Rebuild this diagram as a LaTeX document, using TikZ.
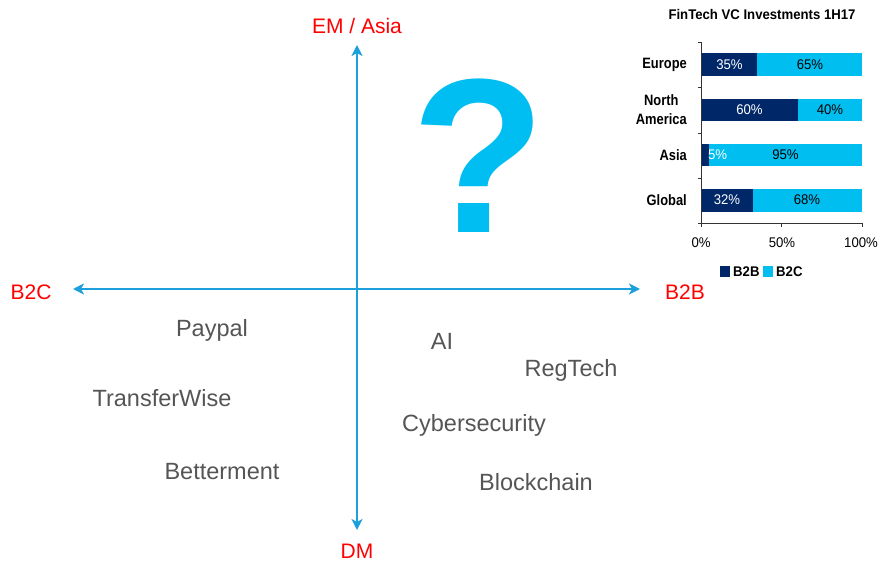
\documentclass[tikz,border=0pt]{standalone}
\usepackage{fontspec}
\setmainfont{Liberation Sans}
\newfontfamily\narrowA[FakeStretch=0.86]{Liberation Sans}
\newfontfamily\narrowB[FakeStretch=0.94]{Liberation Sans}
\usetikzlibrary{arrows.meta}
\definecolor{axisblue}{RGB}{27,160,220}
\definecolor{qcyan}{RGB}{0,190,242}
\definecolor{navy}{RGB}{0,40,105}
\definecolor{barcyan}{RGB}{0,190,240}
\definecolor{lblgray}{RGB}{85,85,85}
\begin{document}
\begin{tikzpicture}[x=1pt,y=-1pt,
  axisarrow/.style={draw=axisblue,line width=2.4pt,-{Stealth[length=11pt,width=11pt,inset=3pt]}},
  axlbl/.style={text=red,font=\fontsize{21}{24}\selectfont,inner sep=0pt},
  cat/.style={text=lblgray,font=\fontsize{23.5}{27}\selectfont,inner sep=0pt},
  chtitle/.style={font=\narrowB\bfseries\fontsize{14}{16}\selectfont,inner sep=0pt},
  catlbl/.style={font=\narrowA\bfseries\fontsize{15}{19}\selectfont,inner sep=0pt,anchor=east,align=center},
  pct/.style={font=\narrowB\fontsize{14}{16}\selectfont,inner sep=0pt},
  leg/.style={font=\narrowB\bfseries\fontsize{14}{16}\selectfont,inner sep=0pt},
  b2b/.style={fill=navy,draw=none},
  b2c/.style={fill=barcyan,draw=none},
  chartaxis/.style={draw=black!80,line width=0.8pt}]
\useasboundingbox (0,0) rectangle (880,561);
% quadrant axes
\coordinate (c) at (357,289);
\coordinate (top) at (357,45);
\coordinate (bot) at (357,530);
\coordinate (left) at (73,289);
\coordinate (right) at (640,289);
\draw[axisarrow] (c) -- (top);
\draw[axisarrow] (c) -- (bot);
\draw[axisarrow] (c) -- (left);
\draw[axisarrow] (c) -- (right);
\node[axlbl] (em) at (357,26) {EM / Asia};
\node[axlbl] (dm) at (357,551) {DM};
\node[axlbl] (b2cl) at (31,292) {B2C};
\node[axlbl] (b2bl) at (685,292) {B2B};
% question mark
\node[text=qcyan,font=\bfseries\fontsize{220}{230}\selectfont,inner sep=0pt] (q) at (479,156) {?};
% category labels
\node[cat] (paypal) at (212,330) {Paypal};
\node[cat] (tw) at (162,398) {TransferWise};
\node[cat] (bet) at (222,472) {Betterment};
\node[cat] (ai) at (442,341) {AI};
\node[cat] (reg) at (571,370) {RegTech};
\node[cat] (cyber) at (474,425) {Cybersecurity};
\node[cat] (block) at (536,482) {Blockchain};
% chart
\node[chtitle] (ctitle) at (762,15) {FinTech VC Investments 1H17};
% bars
\fill[b2b] (701,53) rectangle (757.4,76);
\fill[b2c] (757.4,53) rectangle (862,76);
\fill[b2b] (701,99) rectangle (797.6,121);
\fill[b2c] (797.6,99) rectangle (862,121);
\fill[b2b] (701,144) rectangle (709,166);
\fill[b2c] (709,144) rectangle (862,166);
\fill[b2b] (701,189) rectangle (752.5,212);
\fill[b2c] (752.5,189) rectangle (862,212);
% chart axes
\draw[chartaxis] (701,42) -- (701,223) -- (862,223);
\foreach \yy in {42,87.5,133,178,223} \draw[chartaxis] (698,\yy) -- (701,\yy);
\foreach \xx in {701,781.5,862} \draw[chartaxis] (\xx,223) -- (\xx,227);
% bar labels
\node[pct,text=white] (e1) at (729.5,65) {35\%};
\node[pct] (e2) at (810,65) {65\%};
\node[pct,text=white] (n1) at (749.5,110) {60\%};
\node[pct] (n2) at (830,110) {40\%};
\node[pct,text=white] (a1) at (717.5,155) {5\%};
\node[pct] (a2) at (785.5,155) {95\%};
\node[pct,text=white] (g1) at (727,200) {32\%};
\node[pct] (g2) at (807,200) {68\%};
% category labels
\node[catlbl] (eu) at (687,65) {Europe};
\node[catlbl] (na) at (687,110) {North\\America};
\node[catlbl] (as) at (687,155) {Asia};
\node[catlbl] (gl) at (687,200) {Global};
% tick labels
\node[pct] (t0) at (701,243) {0\%};
\node[pct] (t50) at (782,243) {50\%};
\node[pct] (t100) at (861,243) {100\%};
% legend
\fill[b2b] (720,266) rectangle (730,277);
\node[leg,anchor=west] (lb2b) at (733,272) {B2B};
\fill[b2c] (763,266) rectangle (773,277);
\node[leg,anchor=west] (lb2c) at (776,272) {B2C};
\end{tikzpicture}
\end{document}
